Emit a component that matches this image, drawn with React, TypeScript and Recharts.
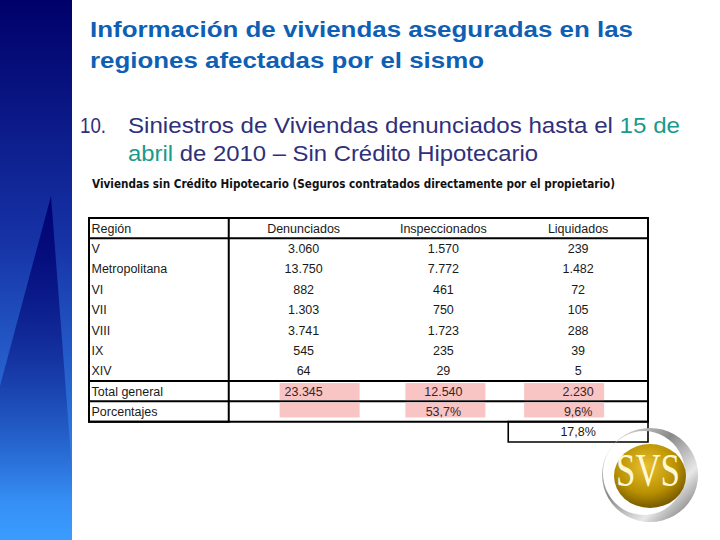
import { ScatterChart, Scatter, XAxis, YAxis, ReferenceArea } from 'recharts';

// table columns and rows
const columns = ['Región', 'Denunciados', 'Inspeccionados', 'Liquidados'];
const regions = ['V', 'Metropolitana', 'VI', 'VII', 'VIII', 'IX', 'XIV'];
const denunciados = [3060, 13750, 882, 1303, 3741, 545, 64];
const inspeccionados = [1570, 7772, 461, 750, 1723, 235, 29];
const liquidados = [239, 1482, 72, 105, 288, 39, 5];
const totalGeneral = [23345, 12540, 2230];
const porcentajes = ['', '53,7%', '9,6%'];
const liqSobreInsp = '17,8%';

const HEADER = 'header';
const TOTAL = 'Total general';
const PCT = 'Porcentajes';
const EXTRA = 'extra';

const W = 559;
const H = 224;
const PAD = 2;
const colW = W / columns.length;

// small horizontal nudges so the text sits like the slide
const textDx: Record<string, number> = { Denunciados: 5, Inspeccionados: 5, Liquidados: 0 };
const pinkDx: Record<string, number> = { Denunciados: 21, Inspeccionados: 7, Liquidados: -14 };

const fmt = (n: number) => String(n).replace(/\B(?=(\d{3})+(?!\d))/g, '.');

type Cell = { col: string; row: string; text: string; pink?: boolean };

const cells: Cell[] = [];
columns.forEach((c) => cells.push({ col: c, row: HEADER, text: c }));
regions.forEach((r, i) => {
  cells.push({ col: columns[0], row: r, text: r });
  cells.push({ col: columns[1], row: r, text: fmt(denunciados[i]) });
  cells.push({ col: columns[2], row: r, text: fmt(inspeccionados[i]) });
  cells.push({ col: columns[3], row: r, text: fmt(liquidados[i]) });
});
cells.push({ col: columns[0], row: TOTAL, text: TOTAL });
totalGeneral.forEach((v, i) => cells.push({ col: columns[i + 1], row: TOTAL, text: fmt(v), pink: true }));
cells.push({ col: columns[0], row: PCT, text: PCT });
porcentajes.forEach((v, i) => cells.push({ col: columns[i + 1], row: PCT, text: v, pink: true }));
cells.push({ col: columns[3], row: EXTRA, text: liqSobreInsp });

const TextCell = (props: any) => {
  const { cx, cy, payload } = props;
  const first = payload.col === columns[0] && payload.row !== EXTRA;
  return (
    <text
      x={first ? cx - colW / 2 + 2.5 : cx + (textDx[payload.col] || 0)}
      y={cy + 4.5}
      textAnchor={first ? 'start' : 'middle'}
      fontFamily="'Liberation Sans', Arial, sans-serif"
      fontSize={12.5}
      fill={payload.pink ? '#3a2424' : '#1a1a1a'}
    >
      {payload.text}
    </text>
  );
};

// pink boxes leave a thin gap at the row border so the rule shows through
const PinkCell = (props: any) => {
  const { cx, cy, payload } = props;
  if (!payload.pink) return <g />;
  const top = payload.row === TOTAL;
  return (
    <rect
      x={cx - 40 + (pinkDx[payload.col] || 0)}
      y={top ? cy - 8 : cy - 9}
      width={80}
      height={top ? 17 : 15}
      fill="#f8c4c4"
    />
  );
};

const line = { fill: 'none', fillOpacity: 0, stroke: '#000', strokeWidth: 2 };

function TableChart() {
  return (
    <ScatterChart width={W + PAD * 2} height={H + PAD * 2} margin={{ top: PAD, right: PAD, bottom: PAD, left: PAD }}>
      <XAxis dataKey="col" type="category" allowDuplicatedCategory={false} hide />
      <YAxis dataKey="row" type="category" allowDuplicatedCategory={false} reversed hide />
      <Scatter data={cells} shape={<PinkCell />} isAnimationActive={false} />
      <ReferenceArea x1={columns[0]} x2={columns[3]} y1={HEADER} y2={PCT} {...line} />
      <ReferenceArea x1={columns[0]} x2={columns[3]} y1={HEADER} y2={HEADER} {...line} />
      <ReferenceArea x1={columns[0]} x2={columns[0]} y1={HEADER} y2={PCT} {...line} />
      <ReferenceArea x1={columns[0]} x2={columns[3]} y1={TOTAL} y2={TOTAL} {...line} />
      <ReferenceArea x1={columns[3]} x2={columns[3]} y1={EXTRA} y2={EXTRA} {...line} strokeWidth={1.6} />
      <Scatter data={cells} shape={<TextCell />} isAnimationActive={false} />
    </ScatterChart>
  );
}

export default function App() {
  return (
    <div style={{ position: 'absolute', left: 0, top: 0, width: 720, height: 540, background: '#fff', overflow: 'hidden' }}>
      <svg width={720} height={540} style={{ position: 'absolute', left: 0, top: 0 }}>
        <defs>
          <linearGradient id="side" x1="0" y1="0" x2="0" y2="1">
            <stop offset="0" stopColor="#00006a" />
            <stop offset="0.45" stopColor="#1633a6" />
            <stop offset="1" stopColor="#3a9cff" />
          </linearGradient>
          <linearGradient id="tri" x1="0" y1="195" x2="0" y2="500" gradientUnits="userSpaceOnUse">
            <stop offset="0" stopColor="#000070" stopOpacity={0.95} />
            <stop offset="1" stopColor="#000070" stopOpacity={0} />
          </linearGradient>
        </defs>
        <rect x={0} y={0} width={72} height={540} fill="url(#side)" />
        <polygon points="51,196 0,386 0,540 72,540 72,470" fill="url(#tri)" />
        <g fontFamily="'Liberation Sans', Arial, sans-serif">
          <text x={90} y={37} fontSize={22} fontWeight="bold" fill="#0f5fb5" textLength={543} lengthAdjust="spacingAndGlyphs">
            Información de viviendas aseguradas en las
          </text>
          <text x={90} y={68} fontSize={22} fontWeight="bold" fill="#0f5fb5" textLength={394} lengthAdjust="spacingAndGlyphs">
            regiones afectadas por el sismo
          </text>
          <text x={80} y={133} fontSize={22} fill="#30307a" textLength={26} lengthAdjust="spacingAndGlyphs">10.</text>
          <text x={128} y={133} fontSize={22} fill="#30307a" textLength={552} lengthAdjust="spacingAndGlyphs">
            Siniestros de Viviendas denunciados hasta el <tspan fill="#1a9a8c">15 de</tspan>
          </text>
          <text x={128} y={161} fontSize={22} fill="#30307a" textLength={410} lengthAdjust="spacingAndGlyphs">
            <tspan fill="#1a9a8c">abril</tspan> de 2010 – Sin Crédito Hipotecario
          </text>
        </g>
        <text x={92} y={188} fontFamily="'DejaVu Sans', Verdana, sans-serif" fontSize={11.5} fontWeight="bold" fill="#111" textLength={523} lengthAdjust="spacingAndGlyphs">
          Viviendas sin Crédito Hipotecario (Seguros contratados directamente por el propietario)
        </text>
      </svg>
      <div style={{ position: 'absolute', left: 89 - PAD, top: 218 - PAD }}>
        <TableChart />
      </div>
      <svg width={720} height={540} style={{ position: 'absolute', left: 0, top: 0, pointerEvents: 'none' }}>
        <defs>
          <linearGradient id="ring" x1="0" y1="0" x2="1" y2="1">
            <stop offset="0" stopColor="#f0f0f0" />
            <stop offset="0.4" stopColor="#8a8a8a" />
            <stop offset="0.7" stopColor="#e8e8e8" />
            <stop offset="1" stopColor="#555" />
          </linearGradient>
          <radialGradient id="gold" cx="0.45" cy="0.35" r="0.7">
            <stop offset="0" stopColor="#e8c030" />
            <stop offset="0.6" stopColor="#b89000" />
            <stop offset="1" stopColor="#6a4e00" />
          </radialGradient>
        </defs>
        <path
          d="M650,428 a48,47 0 1,0 0.1,0 Z M644,431 a41,42 0 1,1 -0.1,0 Z"
          fill="url(#ring)"
          fillRule="evenodd"
        />
        <ellipse cx={650} cy={476} rx={36} ry={32} fill="url(#gold)" />
        <text x={648} y={486} textAnchor="middle" fontFamily="'Liberation Serif', 'DejaVu Serif', serif" fontSize={46} fill="#fff8d6" textLength={64} lengthAdjust="spacingAndGlyphs">
          SVS
        </text>
      </svg>
    </div>
  );
}
